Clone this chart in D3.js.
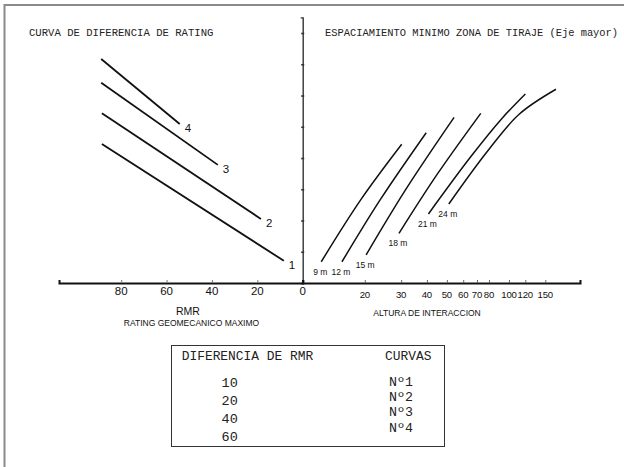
<!DOCTYPE html>
<html>
<head>
<meta charset="utf-8">
<script src="https://cdn.jsdelivr.net/npm/d3@7"></script>
<style>
  html, body { margin: 0; padding: 0; background: #fff; }
  svg { display: block; }
</style>
</head>
<body>
<svg id="chart"></svg>
<script>
/* Dual chart: RMR rating difference curves (left) and minimum draw-zone
 * spacing vs. interaction height (right), sharing one vertical axis. */
(function () {
    "use strict";

    // left half: rating difference curves 1..4 (RMR on a reversed axis)
    var rmrCurveLabels = ["1", "2", "3", "4"];
    var rmrFrom = [88.5, 88.5, 88.8, 88.8];
    var rmrTo = [8.3, 18.4, 37.4, 54.2];
    var levelFrom = [4.45, 5.43, 6.41, 7.17];
    var levelTo = [0.71, 2.05, 3.78, 5.09];
    var rmrTicks = [80, 60, 40, 20, 0];

    // right half: spacing curves vs. interaction height (log axis)
    var spacingLabels = ["9 m", "12 m", "15 m", "18 m", "21 m", "24 m"];
    var heightPts = [
        [12.3, 19.1, 30.2],
        [15.5, 23.9, 39.7],
        [20.3, 31.5, 54.2],
        [29.3, 45.0, 73.0],
        [40.7, 65.1, 92.0, 120.1],
        [51.1, 78.3, 112.0, 169.0]
    ];
    var levelPts = [
        [0.68, 2.66, 4.44],
        [0.68, 2.69, 4.81],
        [0.90, 2.98, 5.30],
        [1.59, 3.49, 5.43],
        [2.21, 4.03, 5.25, 6.05],
        [2.53, 4.20, 5.40, 6.20]
    ];
    var heightTicks = [20, 30, 40, 50, 60, 70, 80, 100, 120, 150];
    var levelTicks = [1, 2, 3, 4, 5, 6, 7, 8];

    // table
    var rmrDiffs = ["10", "20", "40", "60"];
    var curveNames = ["Nº1", "Nº2", "Nº3", "Nº4"];

    var width = 624, height = 467;
    var mono = "'Liberation Mono', 'DejaVu Sans Mono', monospace";
    var sans = "'Liberation Sans', Arial, sans-serif";

    var svg = d3.select("#chart")
        .attr("width", width)
        .attr("height", height)
        .attr("viewBox", "0 0 " + width + " " + height);

    // scanned page frame (top and left edges only)
    svg.append("path")
        .attr("d", "M4.5," + height + "V5H" + width)
        .attr("fill", "none")
        .attr("stroke", "#8a8a8a")
        .attr("stroke-width", 2);

    var originX = 302.7, baseY = 283;

    var xRmr = d3.scaleLinear().domain([0, 107.4]).range([originX, 59]);
    var xHeight = d3.scaleLog().domain([10, 221]).range([originX, 580]);
    var y = d3.scaleLinear().domain([0, 8.5]).range([baseY, 17.4]);

    // vertical axis with small unlabeled ticks
    var yAxis = svg.append("g")
        .attr("transform", "translate(" + originX + ",0)")
        .call(d3.axisLeft(y).tickValues(levelTicks).tickSize(2).tickFormat(""));
    yAxis.select(".domain").attr("stroke", "#333").attr("stroke-width", 1.4);
    yAxis.selectAll(".tick line").attr("stroke", "#333").attr("stroke-width", 1.6)
        .attr("x1", -1.5).attr("x2", 1.5);

    // horizontal axis: left (RMR) part
    var xLeft = svg.append("g")
        .attr("transform", "translate(0," + baseY + ")")
        .call(d3.axisTop(xRmr).tickValues(rmrTicks).tickSize(3).tickFormat(""));
    xLeft.select(".domain").attr("stroke", "#111").attr("stroke-width", 2);
    xLeft.selectAll(".tick line").attr("stroke", "#777");

    svg.append("g")
        .selectAll("text")
        .data(rmrTicks)
        .join("text")
        .attr("x", function (d) { return xRmr(d); })
        .attr("y", baseY + 12)
        .attr("text-anchor", "middle")
        .attr("font-family", sans)
        .attr("font-size", 11.5)
        .attr("fill", "#111")
        .text(function (d) { return d; });

    // horizontal axis: right (interaction height) part
    var xRight = svg.append("g")
        .attr("transform", "translate(0," + baseY + ")")
        .call(d3.axisTop(xHeight).tickValues(heightTicks).tickSize(3).tickFormat(""));
    xRight.select(".domain").attr("stroke", "#111").attr("stroke-width", 2);
    xRight.selectAll(".tick line").attr("stroke", "#666");

    svg.append("g")
        .selectAll("text")
        .data(heightTicks)
        .join("text")
        .attr("x", function (d) { return xHeight(d); })
        .attr("y", baseY + 15)
        .attr("text-anchor", "middle")
        .attr("font-family", sans)
        .attr("font-size", 9.6)
        .attr("letter-spacing", -0.2)
        .attr("fill", "#111")
        .text(function (d) { return d; });

    // left curves
    var leftIdx = d3.range(rmrCurveLabels.length);
    svg.append("g")
        .selectAll("line")
        .data(leftIdx)
        .join("line")
        .attr("x1", function (i) { return xRmr(rmrFrom[i]); })
        .attr("y1", function (i) { return y(levelFrom[i]); })
        .attr("x2", function (i) { return xRmr(rmrTo[i]); })
        .attr("y2", function (i) { return y(levelTo[i]); })
        .attr("stroke", "#111")
        .attr("stroke-width", 1.8);

    svg.append("g")
        .selectAll("text")
        .data(leftIdx)
        .join("text")
        .attr("x", function (i) { return xRmr(rmrTo[i]) + 5; })
        .attr("y", function (i) { return y(levelTo[i]) + 8.5; })
        .attr("font-family", sans)
        .attr("font-size", 11.5)
        .attr("fill", "#111")
        .text(function (i) { return rmrCurveLabels[i]; });

    // right curves
    var line = d3.line()
        .x(function (p) { return xHeight(p[0]); })
        .y(function (p) { return y(p[1]); })
        .curve(d3.curveCatmullRom);

    var rightIdx = d3.range(spacingLabels.length);
    svg.append("g")
        .attr("fill", "none")
        .selectAll("path")
        .data(rightIdx)
        .join("path")
        .attr("d", function (i) { return line(d3.zip(heightPts[i], levelPts[i])); })
        .attr("stroke", "#111")
        .attr("stroke-width", 1.5);

    svg.append("g")
        .selectAll("text")
        .data(rightIdx)
        .join("text")
        .attr("x", function (i) { return xHeight(heightPts[i][0]) - 1; })
        .attr("y", function (i) { return y(levelPts[i][0]) + 13; })
        .attr("text-anchor", "middle")
        .attr("font-family", sans)
        .attr("font-size", 8.5)
        .attr("fill", "#111")
        .text(function (i) { return spacingLabels[i]; });

    // titles
    svg.append("text")
        .attr("x", 29).attr("y", 35.5)
        .attr("font-family", mono).attr("font-size", 10.6).attr("fill", "#222")
        .text("CURVA DE DIFERENCIA DE RATING");

    svg.append("text")
        .attr("x", 325).attr("y", 35.5)
        .attr("font-family", mono).attr("font-size", 10.4).attr("fill", "#222")
        .text("ESPACIAMIENTO MINIMO ZONA DE TIRAJE (Eje mayor)");

    // axis titles
    svg.append("text")
        .attr("x", 188).attr("y", 314.5)
        .attr("text-anchor", "middle")
        .attr("font-family", sans).attr("font-size", 10.5).attr("fill", "#111")
        .text("RMR");

    svg.append("text")
        .attr("x", 191.5).attr("y", 326.3)
        .attr("text-anchor", "middle")
        .attr("font-family", sans).attr("font-size", 8.5).attr("fill", "#111")
        .text("RATING GEOMECANICO MAXIMO");

    svg.append("text")
        .attr("x", 427).attr("y", 315.7)
        .attr("text-anchor", "middle")
        .attr("font-family", sans).attr("font-size", 8.5).attr("fill", "#111")
        .text("ALTURA DE INTERACCION");

    // legend table
    var table = svg.append("g").attr("transform", "translate(171,345)");
    table.append("rect")
        .attr("x", 0.5).attr("y", 0.5)
        .attr("width", 273).attr("height", 101)
        .attr("fill", "none")
        .attr("stroke", "#333")
        .attr("stroke-width", 1);

    table.append("text")
        .attr("x", 10.7).attr("y", 14.5)
        .attr("font-family", mono).attr("font-size", 12.9).attr("fill", "#222")
        .text("DIFERENCIA DE RMR");
    table.append("text")
        .attr("x", 214).attr("y", 14.5)
        .attr("font-family", mono).attr("font-size", 12.9).attr("fill", "#222")
        .text("CURVAS");

    table.append("g")
        .selectAll("text")
        .data(rmrDiffs)
        .join("text")
        .attr("x", 58.7)
        .attr("y", function (d, i) { return 41.7 + i * 18.1; })
        .attr("text-anchor", "middle")
        .attr("font-family", mono).attr("font-size", 13.5).attr("fill", "#222")
        .text(function (d) { return d; });

    table.append("g")
        .selectAll("text")
        .data(curveNames)
        .join("text")
        .attr("x", 218)
        .attr("y", function (d, i) { return 40.5 + i * 15.4; })
        .attr("font-family", mono).attr("font-size", 13.3).attr("fill", "#222")
        .text(function (d) { return d; });
})();
</script>
</body>
</html>
